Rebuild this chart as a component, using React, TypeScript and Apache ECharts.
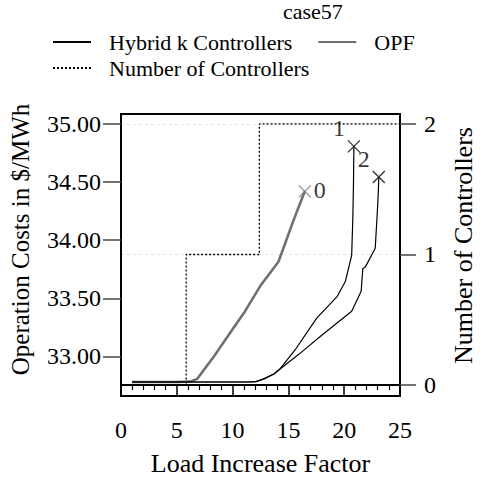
import React, { useEffect, useRef } from "react";
import * as echarts from "echarts";

const FONT = "Liberation Serif, serif";

// Operation costs ($/MWh) versus load increase factor
const opfLoad = [1, 2, 3, 4, 5, 5.84, 6.27, 6.84, 7.55, 8.26, 9.69, 11.12, 12.54, 14.11, 15.4, 16.47];
const opfCost = [32.78, 32.78, 32.78, 32.78, 32.78, 32.783, 32.787, 32.807, 32.9, 32.991, 33.19, 33.389, 33.615, 33.814, 34.155, 34.42];

// Both hybrid runs follow the same path until they split near factor 14
const hybridSharedLoad = [1, 2, 3, 4, 5, 6, 7, 8, 9, 10, 11, 11.4, 12.1, 12.8, 13.7, 14.25];
const hybridSharedCost = [32.78, 32.78, 32.78, 32.78, 32.78, 32.78, 32.78, 32.78, 32.78, 32.78, 32.78, 32.78, 32.783, 32.807, 32.849, 32.892];

const hybrid1TailLoad = [15.7, 17.54, 19.38, 20.1, 20.67, 20.77, 20.83, 20.87];
const hybrid1TailCost = [33.07, 33.33, 33.517, 33.644, 33.87, 34.18, 34.48, 34.807];

const hybrid2TailLoad = [15.96, 17.96, 20.67, 21.52, 21.67, 21.9, 22.78, 22.95, 23.05, 23.1];
const hybrid2TailCost = [33.02, 33.18, 33.389, 33.56, 33.757, 33.77, 33.93, 34.21, 34.4, 34.543];

// Number of controllers placed (right axis)
const stepLoad = [0.25, 5.84, 12.4, 25];
const stepCount = [0, 1, 2, 2];

// Axis ticks
const costTicks = [33, 33.5, 34, 34.5, 35];
const countTicks = [0, 1, 2];
const kLabels = ["0", "1", "2"];

const zip = (xs: number[], ys: number[]) => xs.map((x, i) => [x, ys[i]]);

export default function App() {
  const ref = useRef<HTMLDivElement>(null);

  useEffect(() => {
    if (!ref.current) return;
    const chart = echarts.init(ref.current, undefined, { renderer: "svg" });

    const opf = zip(opfLoad, opfCost);
    const hyb1 = zip(hybridSharedLoad.concat(hybrid1TailLoad), hybridSharedCost.concat(hybrid1TailCost));
    const hyb2 = zip(hybridSharedLoad.concat(hybrid2TailLoad), hybridSharedCost.concat(hybrid2TailCost));
    const ends = [opf, hyb1, hyb2].map((d) => d[d.length - 1]);

    const txt = { fontFamily: FONT, color: "#000" };
    const legendBase = {
      left: 52,
      padding: 0,
      itemWidth: 38,
      itemHeight: 12,
      itemGap: 25,
      itemStyle: { opacity: 0 },
      textStyle: { ...txt, fontSize: 22, padding: [0, 0, 0, 13] },
    };

    chart.setOption({
      animation: false,
      textStyle: { fontFamily: FONT },
      title: {
        text: "case57",
        left: 283,
        top: 0,
        padding: 0,
        textStyle: { ...txt, fontSize: 22, fontWeight: "normal" },
      },
      legend: [
        { ...legendBase, data: ["Hybrid k Controllers", "OPF"], top: 31 },
        { ...legendBase, data: ["Number of Controllers"], top: 57 },
      ],
      grid: {
        left: 117,
        right: 75.5,
        top: 114,
        bottom: 82,
        show: true,
        borderColor: "#000",
        borderWidth: 2,
        containLabel: false,
      },
      xAxis: {
        type: "value",
        min: 0,
        max: 25,
        interval: 5,
        name: "Load Increase Factor",
        nameLocation: "middle",
        nameGap: 54,
        nameTextStyle: { ...txt, fontSize: 26 },
        axisLine: { show: true, lineStyle: { color: "#000", width: 2 } },
        axisTick: { show: true, inside: false, length: 12, lineStyle: { color: "#000", width: 1.5 } },
        minorTick: { show: true, splitNumber: 5, length: 5, lineStyle: { color: "#000", width: 1.2 } },
        axisLabel: { ...txt, fontSize: 24, margin: 22 },
        splitLine: { show: false },
      },
      yAxis: [
        {
          type: "value",
          position: "left",
          min: 32.6595,
          max: 35.0853,
          name: "Operation Costs in $/MWh",
          nameLocation: "middle",
          nameRotate: 90,
          nameGap: 88,
          nameTextStyle: { ...txt, fontSize: 25, padding: [0, 0, 0, 31] },
          axisLine: { show: true, lineStyle: { color: "#000", width: 2 } },
          axisTick: { show: true, inside: false, length: 18, customValues: costTicks, lineStyle: { color: "#444", width: 1.5 } },
          axisLabel: {
            ...txt,
            fontSize: 24,
            margin: 20,
            customValues: costTicks,
            formatter: (v: number) => v.toFixed(2),
          },
          splitLine: { show: false },
        },
        {
          type: "value",
          position: "right",
          min: -0.0834,
          max: 2.0757,
          name: "Number of Controllers",
          nameLocation: "middle",
          nameRotate: 90,
          nameGap: 50,
          nameTextStyle: { ...txt, fontSize: 26, padding: [0, 0, 0, 19] },
          axisLine: { show: true, lineStyle: { color: "#000", width: 2 } },
          axisTick: { show: true, inside: false, length: 16, customValues: countTicks, lineStyle: { color: "#444", width: 1.5 } },
          axisLabel: { ...txt, fontSize: 24, margin: 24, customValues: countTicks },
          splitLine: { show: true, lineStyle: { color: "#e4e4e4", width: 1, type: [3, 3] } },
        },
      ],
      series: [
        {
          name: "Number of Controllers",
          type: "line",
          yAxisIndex: 1,
          step: "end",
          symbol: "none",
          data: zip(stepLoad, stepCount),
          lineStyle: { color: "#000", width: 1.3, type: [2, 2] },
          itemStyle: { color: "#000" },
          z: 2,
        },
        {
          name: "OPF",
          type: "line",
          symbol: "none",
          data: opf,
          lineStyle: { color: "#707070", width: 2.6 },
          itemStyle: { color: "#707070" },
          z: 3,
        },
        {
          name: "Hybrid k Controllers",
          type: "line",
          symbol: "none",
          data: hyb1,
          lineStyle: { color: "#000", width: 1.2 },
          itemStyle: { color: "#000" },
          z: 4,
        },
        {
          name: "Hybrid k Controllers",
          type: "line",
          symbol: "none",
          data: hyb2,
          lineStyle: { color: "#000", width: 1.2 },
          itemStyle: { color: "#000" },
          z: 4,
        },
        {
          name: "end",
          type: "scatter",
          symbol: "path://M0,0L10,10M0,10L10,0",
          symbolSize: 12,
          z: 5,
          data: ends.map((p, i) => ({
            value: p,
            itemStyle: { color: "none", borderColor: i === 0 ? "#707070" : "#000", borderWidth: 1.3 },
            label: {
              show: true,
              formatter: kLabels[i],
              position: "inside",
              offset: i === 0 ? [15, -1] : [-15, -18],
              ...txt,
              fontSize: 24,
            },
          })),
        },
      ],
    });

    return () => chart.dispose();
  }, []);

  return (
    <div
      ref={ref}
      style={{ position: "fixed", left: 0, top: 0, width: 484, height: 481, background: "#fff" }}
    />
  );
}
